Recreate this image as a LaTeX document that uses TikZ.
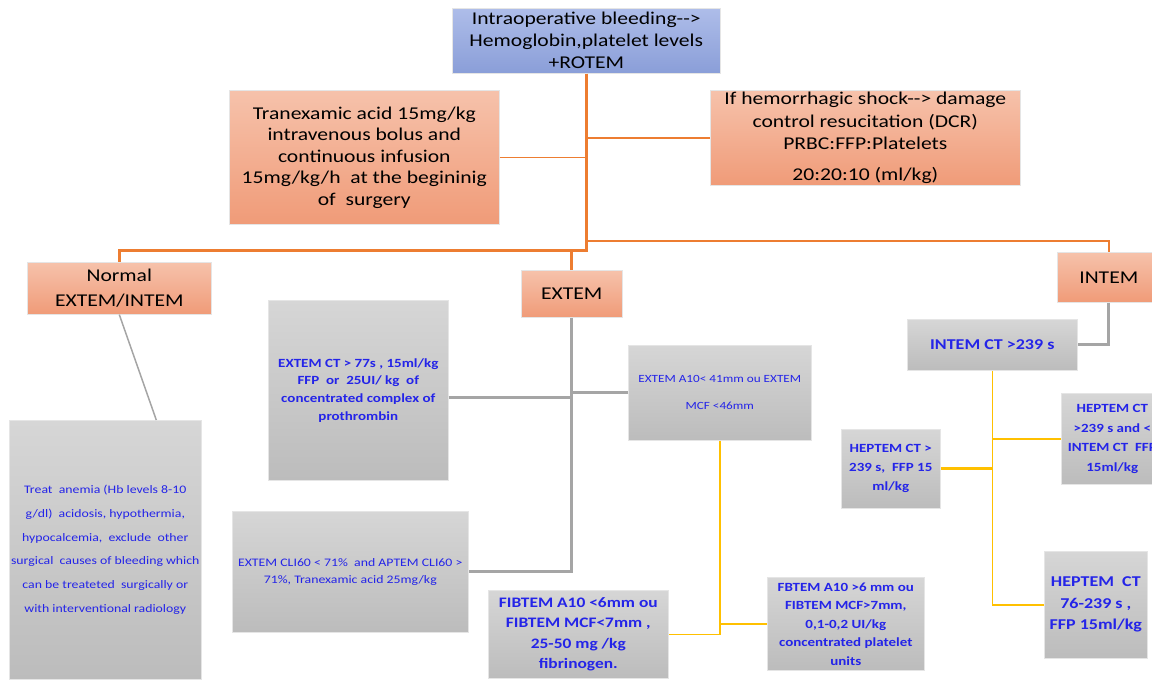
\documentclass[tikz,border=0pt]{standalone}
\usepackage{fontspec}
\setmainfont{Carlito}[FakeStretch=1.2]
\usetikzlibrary{calc}
\definecolor{salA}{HTML}{F6C2AB}
\definecolor{salB}{HTML}{F09B78}
\definecolor{bluA}{HTML}{AEBDE9}
\definecolor{bluB}{HTML}{8A9ED8}
\definecolor{gryA}{HTML}{D6D6D6}
\definecolor{gryB}{HTML}{BCBCBC}
\definecolor{txtblue}{HTML}{2424E8}
\definecolor{orln}{HTML}{ED7D31}
\definecolor{grln}{HTML}{A5A5A5}
\definecolor{ylln}{HTML}{FFC000}
\tikzset{
  basebox/.style={rectangle, inner sep=0pt, anchor=north west, align=center, draw=black!10, line width=0.6pt},
  bluebox/.style={basebox, top color=bluA, bottom color=bluB, font=\fontsize{18}{22}\selectfont},
  salbox/.style={basebox, top color=salA, bottom color=salB, font=\fontsize{18}{21.5}\selectfont},
  graybox/.style={basebox, top color=gryA, bottom color=gryB, text=txtblue},
  orthick/.style={draw=orln, line width=3pt},
  orthin/.style={draw=orln, line width=1.6pt},
  grthick/.style={draw=grln, line width=3pt},
  grthin/.style={draw=grln, line width=1.5pt},
  ylthin/.style={draw=ylln, line width=1.6pt},
  ylthick/.style={draw=ylln, line width=3pt},
}
\begin{document}
\begin{tikzpicture}[x=1pt,y=-1pt]
\useasboundingbox (0,0) rectangle (1152,681);
\clip (0,0) rectangle (1152,681);
\coordinate (h250) at (0,250);
\coordinate (h240) at (0,241);

% orange level
\node[bluebox, minimum width=268pt, minimum height=65pt] (top) at (452,8)
  {Intraoperative bleeding-{}->\\Hemoglobin,platelet levels\\+ROTEM};
\node[salbox, minimum width=270pt, minimum height=134pt] (tran) at (229,90)
  {Tranexamic acid 15mg/kg\\intravenous bolus and\\continuous infusion\\15mg/kg/h\ \ at the begininig\\of\ \ surgery};
\node[salbox, minimum width=310pt, minimum height=95pt, font=\fontsize{18}{22.5}\selectfont] (dcr) at (710,90)
  {If hemorrhagic shock-{}-> damage\\control resucitation (DCR)\\PRBC:FFP:Platelets\\[8pt]20:20:10 (ml/kg)};
\node[salbox, minimum width=184pt, minimum height=52pt, font=\fontsize{18}{25}\selectfont] (normal) at (27,262)
  {Normal\\EXTEM/INTEM};
\node[salbox, minimum width=101pt, minimum height=47pt] (extem) at (521,270) {EXTEM};
\node[salbox, minimum width=103pt, minimum height=50pt] (intem) at (1057,252) {INTEM};

% gray boxes
\node[graybox, minimum width=192pt, minimum height=259pt, font=\fontsize{11.5}{23.7}\selectfont] (treat) at (9,420)
  {Treat\ \ anemia (Hb levels 8-10\\g/dl)\ \ acidosis, hypothermia,\\hypocalcemia,\ \ exclude\ \ other\\surgical\ \ causes of bleeding which\\can be treateted\ \ surgically or\\with interventional radiology};
\node[graybox, minimum width=180pt, minimum height=180pt, font=\bfseries\fontsize{12.5}{17.7}\selectfont] (extct) at (268,300)
  {EXTEM CT > 77s , 15ml/kg\\FFP\ \ or\ \ 25UI/ kg\ \ of\\concentrated complex of\\prothrombin};
\node[graybox, minimum width=236pt, minimum height=121pt, font=\fontsize{11.5}{16.7}\selectfont] (cli) at (232,511)
  {EXTEM CLI60 < 71\%\ \ and APTEM CLI60 >\\71\%, Tranexamic acid 25mg/kg};
\node[graybox, minimum width=183pt, minimum height=95pt, font=\fontsize{11}{26.7}\selectfont] (a10) at (628,345)
  {EXTEM A10< 41mm ou EXTEM\\MCF <46mm};
\node[graybox, minimum width=180pt, minimum height=88pt, font=\bfseries\fontsize{14.5}{20.5}\selectfont] (fib) at (488,590)
  {FIBTEM A10 <6mm ou\\FIBTEM MCF<7mm ,\\25-50 mg /kg\\fibrinogen.};
\node[graybox, minimum width=157pt, minimum height=93pt, font=\bfseries\fontsize{12.5}{18.5}\selectfont] (fbt) at (767,577)
  {FBTEM A10 >6 mm ou\\FIBTEM MCF>7mm,\\0,1-0,2 UI/kg\\concentrated platelet\\units};
\node[graybox, minimum width=170pt, minimum height=51pt, font=\bfseries\fontsize{15}{18}\selectfont] (intct) at (907,319)
  {INTEM CT >239 s};
\node[graybox, minimum width=99pt, minimum height=79pt, font=\bfseries\fontsize{12.5}{19}\selectfont] (hepa) at (841,429)
  {HEPTEM CT\ >\\239 s,\ \ FFP 15\\ml/kg};
\node[graybox, minimum width=102pt, minimum height=91pt, font=\bfseries\fontsize{12.5}{19.5}\selectfont] (hepb) at (1061,393)
  {HEPTEM CT\\>239 s and <\\INTEM CT\ \ FFP\\15ml/kg};
\node[graybox, minimum width=103pt, minimum height=107pt, font=\bfseries\fontsize{15}{21.5}\selectfont] (hepc) at (1044,551)
  {HEPTEM\ \ CT\\76-239 s ,\\FFP 15ml/kg};

% orange connectors
\draw[orthick] (top.south) -- (top.south |- h250) -| (normal.north);
\draw[orthick] (extem.north) -- (extem.north |- h250);
\draw[orthin] (top.south |- h240) -| (intem.north);
\draw[orthin] (tran.east) -- (tran.east -| top.south);
\draw[orthin] (dcr.west) -- (dcr.west -| top.south);

% gray connectors
\draw[grthick] (extem.south) |- (cli.east);
\draw[grthick] ([yshift=-7pt]extct.east) -- ([yshift=-7pt]extct.east -| extem.south);
\draw[grthick] (a10.west) -- (a10.west -| extem.south);
\draw[grthick] (intem.south) |- (intct.east);
\draw[grthin] (normal.south) -- ([xshift=51pt]treat.north);

% yellow connectors
\draw[ylthin] (a10.south) |- (fib.east);
\draw[ylthin] (a10.south |- fbt.west) -- (fbt.west);
\draw[ylthin] (intct.south) |- (hepc.west);
\draw[ylthin] (intct.south |- hepb.west) -- (hepb.west);
\draw[ylthick] (intct.south |- hepa.east) -- (hepa.east);
\end{tikzpicture}
\end{document}
